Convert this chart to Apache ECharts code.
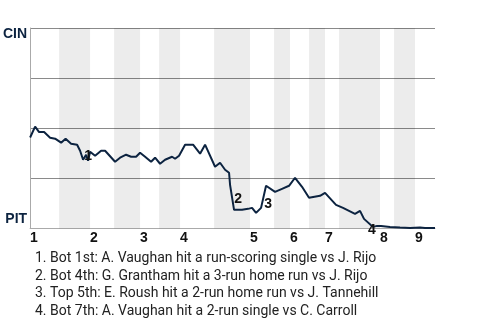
<!DOCTYPE html>
<html><head><meta charset="utf-8">
<script src="https://cdn.jsdelivr.net/npm/echarts@6/dist/echarts.min.js"></script>
<style>html,body{margin:0;padding:0;background:#fff}#c{width:480px;height:320px}</style>
</head><body><div id="c"></div>
<script>
const innings = ['1','2','3','4','5','6','7','8','9'];
const inningStart = [0, 12, 22, 30, 44, 52, 59, 70, 77];
const bottomStart = [5.8, 16.8, 25.8, 36.8, 48.8, 55.8, 61.8, 72.8];
const gameEnd = 81;
const progress = [0,1,1.8,2.8,4,5,6.2,7.1,8.2,9.4,10,10.6,11.2,11.6,12,13,14.2,15,17,18,19.2,20.2,21.2,22,23,24.2,25,26,27,28.4,29,29.8,31,32.6,34,35,37,38,39,39.8,40,40.8,42.4,43.6,44.4,45.2,46.2,47.2,49,50.4,51.8,53,54.4,55.8,58,59,61.2,62.6,65,66,66.8,68.6,69.4,70.2,72,74,76,78,79,81];
const cinWinPct = [45.4,50.8,48.1,48.1,45.3,44.8,42.8,44.8,42.3,41.8,38.8,34.3,36.8,33.8,38.3,36.3,38.8,38.8,33.3,35.3,36.8,35.8,35.8,37.8,35.8,33.3,35.3,32.3,34.3,35.8,34.8,36.3,41.8,41.8,37.3,41.8,30.8,32.8,29.3,27.8,21.8,9.3,9.3,9.8,10.3,7.8,10.3,21.3,18.3,19.8,21.3,25.3,20.8,15.3,16.3,17.8,11.8,10.3,7.3,8.8,4.8,0.8,1.3,1.3,0.8,0.5,0.3,0.5,0.3,0.2];
const eventLabels = ['1','2','3','4'];
const eventX = [11.6, 41.6, 47.6, 68.4];
const eventY = [36.3, 14.8, 12.3, -0.8];
const notes = [
  '1. Bot 1st: A. Vaughan hit a run-scoring single vs J. Rijo',
  '2. Bot 4th: G. Grantham hit a 3-run home run vs J. Rijo',
  '3. Top 5th: E. Roush hit a 2-run home run vs J. Tannehill',
  '4. Bot 7th: A. Vaughan hit a 2-run single vs C. Carroll'
];
const yLabels = {0: 'PIT', 100: 'CIN'};

const navy = '#0c2340', black = '#111111';
const bands = bottomStart.map((b, i) => [{xAxis: b}, {xAxis: inningStart[i + 1]}]);
const pieces = [];
inningStart.forEach((s, i) => {
  const b = bottomStart[i] !== undefined ? bottomStart[i] : gameEnd;
  pieces.push({gte: s, lt: b, color: navy});
  if (bottomStart[i] !== undefined) pieces.push({gte: b, lt: i + 1 < inningStart.length ? inningStart[i + 1] : gameEnd, color: black});
});
pieces[pieces.length - 1].lte = gameEnd; delete pieces[pieces.length - 1].lt;

const chart = echarts.init(document.getElementById('c'), null, {renderer: 'canvas'});
chart.setOption({
  animation: false,
  title: {
    text: notes.join('\n'), left: 30, top: 245,
    textStyle: {fontFamily: 'Roboto', fontSize: 14, fontWeight: 'normal', color: '#222', lineHeight: 17.5}
  },
  grid: {left: 30, right: 45, top: 28, bottom: 91.5},
  visualMap: {type: 'piecewise', show: false, dimension: 0, seriesIndex: 1, pieces: pieces},
  xAxis: {
    type: 'value', min: 0, max: gameEnd,
    axisLine: {show: true, lineStyle: {color: '#aaa', width: 1}},
    axisTick: {show: false},
    splitLine: {show: false},
    axisLabel: {
      customValues: inningStart, align: 'left', margin: 3,
      formatter: v => innings[inningStart.indexOf(v)],
      fontFamily: 'Liberation Sans', fontSize: 14, fontWeight: 'bold', color: '#111'
    }
  },
  yAxis: {
    type: 'value', min: 0, max: 100, interval: 25,
    axisLine: {show: true, lineStyle: {color: '#aaa', width: 1}},
    axisTick: {show: false},
    splitLine: {show: true, lineStyle: {color: '#8a8a8a', width: 1}},
    axisLabel: {
      customValues: [0, 100], margin: 3,
      formatter: v => v === 100 ? '{t|' + yLabels[v] + '}' : '{b|' + yLabels[v] + '}',
      rich: {
        t: {fontFamily: 'Liberation Sans', fontSize: 14, fontWeight: 'bold', color: '#0c2340', padding: [12, 0, 0, 0]},
        b: {fontFamily: 'Liberation Sans', fontSize: 14, fontWeight: 'bold', color: '#0c2340', padding: [0, 0, 19, 0]}
      }
    }
  },
  series: [
    {
      type: 'line', z: 1, data: [], silent: true,
      markArea: {silent: true, itemStyle: {color: 'rgba(0,0,0,0.075)'}, data: bands}
    },
    {
      type: 'line', z: 3, showSymbol: false, symbol: 'none',
      data: progress.map((p, i) => [p, cinWinPct[i]]),
      lineStyle: {width: 2, color: navy}
    },
    {
      type: 'scatter', z: 4, clip: false, symbolSize: 0, silent: true,
      itemStyle: {color: 'transparent'},
      data: eventX.map((x, i) => ({value: [x, eventY[i]], name: eventLabels[i]})),
      label: {show: true, position: [0, 0], align: 'center', verticalAlign: 'middle', formatter: p => p.name,
        fontFamily: 'Liberation Sans', fontSize: 14, fontWeight: 'bold', color: '#111', textBorderWidth: 0, opacity: 1}
    }
  ]
});
</script></body></html>
